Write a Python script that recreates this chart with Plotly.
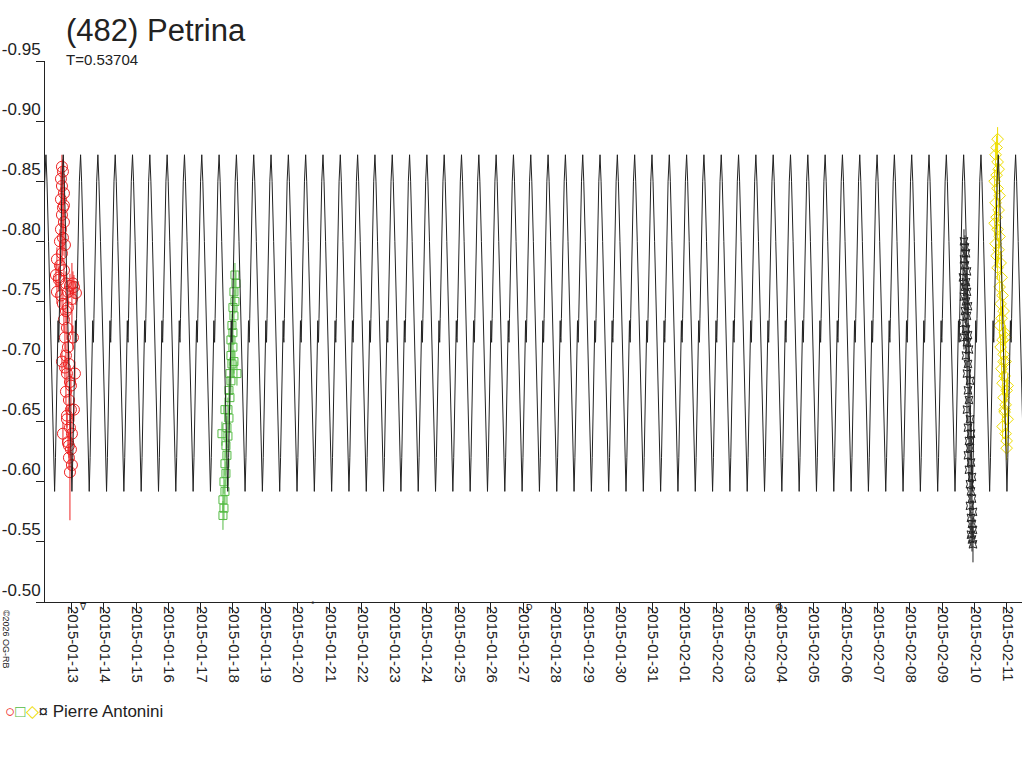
import pandas as pd
import plotly.graph_objects as go

# Période et forme d'un cycle du modèle (phase depuis le maximum, magnitude)
period = 0.53704
epoch = -0.26  # jours depuis 2015-01-13, instant d'un maximum
model_phase = [0.00, 0.06, 0.15, 0.25, 0.35, 0.42, 0.47, 0.50, 0.55, 0.62,
               0.68, 0.70, 0.72, 0.74, 0.77, 0.85, 0.93]
model_mag = [-0.872, -0.850, -0.800, -0.740, -0.675, -0.625, -0.592, -0.592, -0.620, -0.680,
             -0.725, -0.734, -0.720, -0.716, -0.736, -0.800, -0.850]

base = pd.Timestamp("2015-01-13")

# Séances (temps en jours depuis 2015-01-13, magnitude)
red_t = [-0.301, -0.270, -0.332, -0.301, -0.239, -0.332, -0.270, -0.301, -0.239, -0.332,
         -0.270, -0.208, -0.301, -0.456, -0.363, -0.239, -0.487, -0.394, -0.177, -0.053,
         0.071, -0.456, -0.332, -0.115, 0.009, 0.133, -0.270, -0.177, -0.239, -0.146,
         -0.208, -0.115, -0.177, -0.084, -0.146, -0.053, -0.177, -0.084, -0.022, -0.146,
         -0.053, 0.009, -0.115, -0.022, -0.084, 0.009, -0.053, 0.102, -0.301, 0.071, -0.270,
         -0.363, -0.239, -0.394, -0.115, 0.040, -0.208, -0.022, -0.146, -0.084, 0.040]
red_mag = [-0.862, -0.858, -0.852, -0.846, -0.840, -0.835, -0.828, -0.822, -0.816, -0.810,
           -0.803, -0.797, -0.790, -0.785, -0.780, -0.776, -0.772, -0.768, -0.765, -0.763,
           -0.762, -0.758, -0.755, -0.758, -0.752, -0.757, -0.748, -0.742, -0.735, -0.728,
           -0.720, -0.712, -0.705, -0.698, -0.690, -0.683, -0.675, -0.668, -0.660, -0.652,
           -0.645, -0.640, -0.633, -0.627, -0.620, -0.614, -0.608, -0.690, -0.700, -0.660, -0.640,
           -0.800, -0.830, -0.770, -0.745, -0.765, -0.695, -0.680, -0.655, -0.630, -0.720]
red_err = [0.01, 0.01, 0.01, 0.01, 0.01, 0.01, 0.04, 0.01, 0.01, 0.01,
           0.01, 0.01, 0.01, 0.01, 0.01, 0.01, 0.01, 0.01, 0.01, 0.01,
           0.01, 0.01, 0.01, 0.01, 0.03, 0.01, 0.01, 0.01, 0.01, 0.01,
           0.01, 0.01, 0.01, 0.01, 0.01, 0.01, 0.01, 0.01, 0.01, 0.01,
           0.01, 0.01, 0.01, 0.01, 0.01, 0.01, 0.04, 0.01, 0.01, 0.01, 0.01,
           0.01, 0.01, 0.01, 0.01, 0.01, 0.01, 0.01, 0.01, 0.01, 0.01]

green_t = [5.065, 5.096, 5.034, 5.065, 5.003, 5.034, 4.972, 5.003, 4.941, 5.003,
           4.941, 4.972, 4.910, 4.941, 4.879, 4.910, 4.848, 4.879, 4.817, 4.848,
           4.786, 4.817, 4.755, 4.786, 4.724, 4.755, 4.693, 4.724, 4.693, 5.127,
           4.662, 4.755, 5.034]
green_mag = [-0.772, -0.765, -0.758, -0.750, -0.745, -0.738, -0.730, -0.724, -0.718, -0.712,
             -0.705, -0.698, -0.690, -0.684, -0.676, -0.670, -0.660, -0.653, -0.645, -0.638,
             -0.630, -0.622, -0.615, -0.607, -0.600, -0.592, -0.585, -0.578, -0.572, -0.690,
             -0.640, -0.660, -0.700]
green_err = [0.01, 0.01, 0.01, 0.01, 0.01, 0.01, 0.01, 0.01, 0.01, 0.01,
             0.01, 0.01, 0.01, 0.01, 0.01, 0.01, 0.01, 0.01, 0.01, 0.01,
             0.01, 0.01, 0.01, 0.01, 0.01, 0.01, 0.01, 0.01, 0.012, 0.01,
             0.01, 0.01, 0.01]

black_t = [27.676, 27.707, 27.738, 27.676, 27.707, 27.769, 27.645, 27.738, 27.707, 27.769,
           27.676, 27.738, 27.800, 27.707, 27.769, 27.645, 27.738, 27.800, 27.769, 27.831,
           27.738, 27.800, 27.676, 27.769, 27.862, 27.800, 27.831, 27.769, 27.862, 27.800,
           27.893, 27.831, 27.862, 27.800, 27.893, 27.831, 27.924, 27.862, 27.893, 27.924,
           27.862, 27.955, 27.893, 27.924, 27.955, 27.893, 27.924, 27.955]
black_mag = [-0.800, -0.795, -0.790, -0.785, -0.780, -0.775, -0.770, -0.766, -0.762, -0.758,
             -0.754, -0.750, -0.746, -0.742, -0.738, -0.732, -0.727, -0.722, -0.716, -0.710,
             -0.705, -0.698, -0.720, -0.690, -0.684, -0.676, -0.668, -0.660, -0.652, -0.645,
             -0.640, -0.634, -0.628, -0.622, -0.616, -0.610, -0.604, -0.598, -0.592, -0.586,
             -0.580, -0.575, -0.570, -0.565, -0.560, -0.556, -0.552, -0.548]
black_err = [0.01] * (len(black_mag) - 1) + [0.015]

yellow_t = [28.719, 28.688, 28.657, 28.719, 28.750, 28.688, 28.626, 28.719, 28.781, 28.657,
            28.750, 28.688, 28.626, 28.719, 28.781, 28.657, 28.750, 28.688, 28.812, 28.719,
            28.843, 28.781, 28.874, 28.812, 28.905, 28.843, 28.781, 28.936, 28.874, 28.812,
            28.905, 28.967, 28.843, 28.936, 28.874, 28.998, 28.905, 28.967, 28.936, 29.029,
            28.874, 28.967, 28.998, 28.905, 29.029, 28.936, 28.998, 28.967]
yellow_mag = [-0.885, -0.878, -0.872, -0.866, -0.860, -0.855, -0.850, -0.844, -0.838, -0.832,
              -0.826, -0.820, -0.815, -0.810, -0.804, -0.798, -0.793, -0.788, -0.782, -0.778,
              -0.770, -0.762, -0.755, -0.748, -0.742, -0.736, -0.730, -0.724, -0.718, -0.712,
              -0.706, -0.700, -0.694, -0.688, -0.682, -0.676, -0.670, -0.664, -0.658, -0.652,
              -0.646, -0.640, -0.634, -0.700, -0.680, -0.660, -0.628, -0.720]
yellow_err = [0.01] * len(yellow_mag)

x_tick0 = "2015-01-13"
x_range = ["2015-01-12 04:10", "2015-02-11 11:25"]
y_range = [-0.50, -0.95]
y_ticks = [-0.95, -0.90, -0.85, -0.80, -0.75, -0.70, -0.65, -0.60, -0.55, -0.50]
y_ticktext = ["-0.95", "-0.90", "-0.85", "-0.80", "-0.75", "-0.70", "-0.65", "-0.60", "-0.55", "-0.50"]


def to_dates(days):
    return base + pd.to_timedelta(pd.Series(days), unit="D")


# Courbe modèle: le cycle, répété avec la période T
model_t = []
model_y = []
for k in range(-2, 58):
    for ph, m in zip(model_phase, model_mag):
        model_t.append(epoch + (k + ph) * period)
        model_y.append(m)

fig = go.Figure()

sessions = [
    (red_t, red_mag, red_err, "#ee2222", "circle-open", 11),
    (green_t, green_mag, green_err, "#55bb44", "square-open", 8),
    (yellow_t, yellow_mag, yellow_err, "#eedd00", "diamond-open", 9),
    (black_t, black_mag, black_err, "#222222", "star-square-open", 7),
]
for t, mag, err, col, sym, size in sessions:
    fig.add_trace(go.Scatter(
        x=to_dates(t), y=mag, mode="markers",
        marker=dict(symbol=sym, size=size, color=col, line=dict(width=1, color=col)),
        error_y=dict(type="data", array=err, visible=True, color=col, thickness=1, width=0),
        showlegend=False, hoverinfo="skip",
    ))

fig.add_trace(go.Scatter(
    x=to_dates(model_t), y=model_y, mode="lines",
    line=dict(color="#222222", width=1),
    showlegend=False, hoverinfo="skip",
))

font = "Liberation Sans, Arial, sans-serif"

fig.update_layout(
    width=1024, height=768,
    margin=dict(l=45, r=2, t=61, b=166),
    paper_bgcolor="white", plot_bgcolor="white",
    font=dict(family=font, color="#222222"),
    xaxis=dict(
        type="date", range=x_range, tick0=x_tick0, dtick=86400000,
        tickformat="%Y-%m-%d", tickangle=90, ticks="outside", ticklen=10,
        tickcolor="#222222", showgrid=False, zeroline=False, showline=True,
        linecolor="#222222", linewidth=1, tickfont=dict(size=15),
        ticklabelposition="outside right", automargin=False,
    ),
    yaxis=dict(
        range=y_range, tickvals=y_ticks, ticktext=y_ticktext,
        ticks="outside", ticklen=8, tickcolor="#222222",
        showgrid=False, zeroline=False, showline=True, linecolor="#222222",
        linewidth=1, tickfont=dict(size=17), ticklabelposition="outside top",
        automargin=False,
    ),
    annotations=[
        dict(text="(482) Petrina", xref="paper", yref="paper", x=0.0195, y=1.057,
             xanchor="left", yanchor="middle", showarrow=False,
             font=dict(size=31, family=font, color="#222222")),
        dict(text="T=0.53704", xref="paper", yref="paper", x=0.0195, y=1.003,
             xanchor="left", yanchor="middle", showarrow=False,
             font=dict(size=15, family=font, color="#222222")),
        dict(text=('<span style="color:#ee2222">○</span><span style="color:#55bb44">□</span>'
                   '<span style="color:#eedd00">◇</span><span style="color:#222222">¤</span>'
                   ' Pierre Antonini'),
             xref="paper", yref="paper", x=-0.043, y=-0.203,
             xanchor="left", yanchor="middle", showarrow=False,
             font=dict(size=17, family=font, color="#222222")),
        dict(text="©2026 OG-RB", xref="paper", yref="paper", x=-0.040, y=-0.07,
             xanchor="center", yanchor="middle", showarrow=False, textangle=90,
             font=dict(size=9, family=font, color="#222222")),
        dict(text="ᐁ", xref="paper", yref="paper", x=0.039, y=-0.01,
             xanchor="center", yanchor="middle", showarrow=False,
             font=dict(size=9, family=font, color="#222222")),
        dict(text="°", xref="paper", yref="paper", x=0.274, y=-0.005,
             xanchor="center", yanchor="middle", showarrow=False,
             font=dict(size=9, family=font, color="#222222")),
        dict(text="D", xref="paper", yref="paper", x=0.496, y=-0.01,
             xanchor="center", yanchor="middle", showarrow=False,
             font=dict(size=9, family=font, color="#222222")),
        dict(text="Φ", xref="paper", yref="paper", x=0.751, y=-0.01,
             xanchor="center", yanchor="middle", showarrow=False,
             font=dict(size=10, family=font, color="#222222")),
    ],
)

# sans la marge de 8 px du <body>, le graphique occupe toute la fenêtre
fig.write_html("out.html", config={"displayModeBar": False},
               post_script="document.body.style.margin = '0';")
